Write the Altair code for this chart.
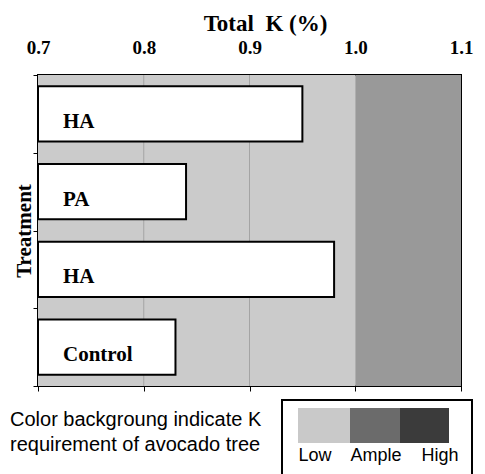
import altair as alt
import pandas as pd

# ---- data ----
treat_ids = ["t1", "t2", "t3", "t4"]
treat_labels = ["HA", "PA", "HA", "Control"]
total_k = [0.95, 0.84, 0.98, 0.83]

zone_names = ["Low", "Ample"]
zone_start = [0.7, 1.0]
zone_end = [1.0, 1.1]
zone_colors = ["#cbcbcb", "#999999"]

tick_values = [0.7, 0.8, 0.9, 1.0, 1.1]
grid_values = [0.8, 0.9]

legend_labels = ["Low", "Ample", "High"]
legend_colors = ["#c9c9c9", "#6b6b6b", "#3b3b3b"]

note_lines = ["Color backgroung indicate K", "requirement of avocado tree"]

W, H = 423, 311
SERIF = "Liberation Serif"
SANS = "Liberation Sans"

bars_df = pd.DataFrame({"id": treat_ids, "label": treat_labels, "k": total_k})
zones_df = pd.DataFrame({"zone": zone_names, "start": zone_start, "end": zone_end, "color": zone_colors})
grid_df = pd.DataFrame({"v": grid_values})
one = pd.DataFrame({"a": [0]})

xscale = alt.Scale(domain=[0.7, 1.1], nice=False, zero=False)
yscale = alt.Scale(domain=treat_ids, paddingInner=0, paddingOuter=0)

top_axis = alt.Axis(
    orient="top", values=tick_values, format=".1f", grid=False, ticks=False, domain=False,
    labelFont=SERIF, labelFontWeight="bold", labelFontSize=19, labelColor="black",
    labelFlush=False, labelOverlap=False, labelPadding=18,
    title="Total\u00a0 K (%)", titleFont=SERIF, titleFontWeight="bold", titleFontSize=23,
    titleColor="black", titleX=227, titleY=-45, titleAlign="center", titleBaseline="alphabetic",
)
bottom_axis = alt.Axis(
    orient="bottom", values=tick_values, grid=False, labels=False, domain=False,
    ticks=True, tickSize=5, tickColor="black", tickWidth=1, title=None,
)
y_axis = alt.Axis(
    labels=False, tickBand="extent", ticks=True, tickSize=5, tickColor="black", tickWidth=1,
    domain=True, domainColor="black", domainWidth=2, grid=False,
    title="Treatment", titleFont=SERIF, titleFontWeight="bold", titleFontSize=21,
    titleColor="black", titlePadding=-2,
)

bg = alt.Chart(zones_df).mark_rect().encode(
    x=alt.X("start:Q", scale=xscale, axis=top_axis),
    x2="end:Q",
    color=alt.Color("color:N", scale=None, legend=None),
)

grid = alt.Chart(grid_df).mark_rule(color="#a4a4a4", strokeWidth=1).encode(
    x=alt.X("v:Q", scale=xscale, axis=bottom_axis),
)

bars = alt.Chart(bars_df).mark_bar(
    fill="white", stroke="black", strokeWidth=2, height={"band": 0.71}
).encode(
    x=alt.X("k:Q", scale=xscale, axis=None),
    x2=alt.datum(0.7),
    y=alt.Y("id:N", scale=yscale, axis=y_axis),
)

labels = alt.Chart(bars_df).mark_text(
    align="left", baseline="middle", dx=25, dy=8,
    font=SERIF, fontWeight="bold", fontSize=21, color="black",
).encode(
    x=alt.XDatum(0.7, scale=xscale, axis=None),
    y=alt.Y("id:N", scale=yscale, axis=y_axis),
    text="label:N",
)

# note text (outside plot, below-left)
note = alt.Chart(one).mark_text(
    align="left", baseline="alphabetic", font=SANS, fontSize=20, color="black", lineHeight=25,
).encode(x=alt.value(-28), y=alt.value(351), text=alt.value(note_lines))

# custom legend box
legend_layers = [
    alt.Chart(one).mark_rect(fill="white", stroke="black", strokeWidth=2).encode(
        x=alt.value(244), x2=alt.value(434), y=alt.value(325), y2=alt.value(440)
    )
]
sw_edges = [260, 312, 362, 411]
label_centers = [277, 338, 402]
for i, (lab, col) in enumerate(zip(legend_labels, legend_colors)):
    legend_layers.append(
        alt.Chart(one).mark_rect(fill=col).encode(
            x=alt.value(sw_edges[i]), x2=alt.value(sw_edges[i + 1]),
            y=alt.value(333), y2=alt.value(368),
        )
    )
    legend_layers.append(
        alt.Chart(one).mark_text(
            align="center", baseline="alphabetic", font=SANS, fontSize=18, color="black"
        ).encode(x=alt.value(label_centers[i]), y=alt.value(386), text=alt.value(lab))
    )

chart = alt.layer(bg, grid, bars, labels, note, *legend_layers).resolve_axis(
    x="independent"
).properties(
    width=W, height=H,
    autosize=alt.AutoSizeParams(type="none"),
    padding={"left": 30, "top": 67, "right": 16, "bottom": 110},
    background="white",
).configure_view(stroke="black", strokeWidth=2)

chart.save("out.html", embed_options={"renderer": "svg", "actions": False})
